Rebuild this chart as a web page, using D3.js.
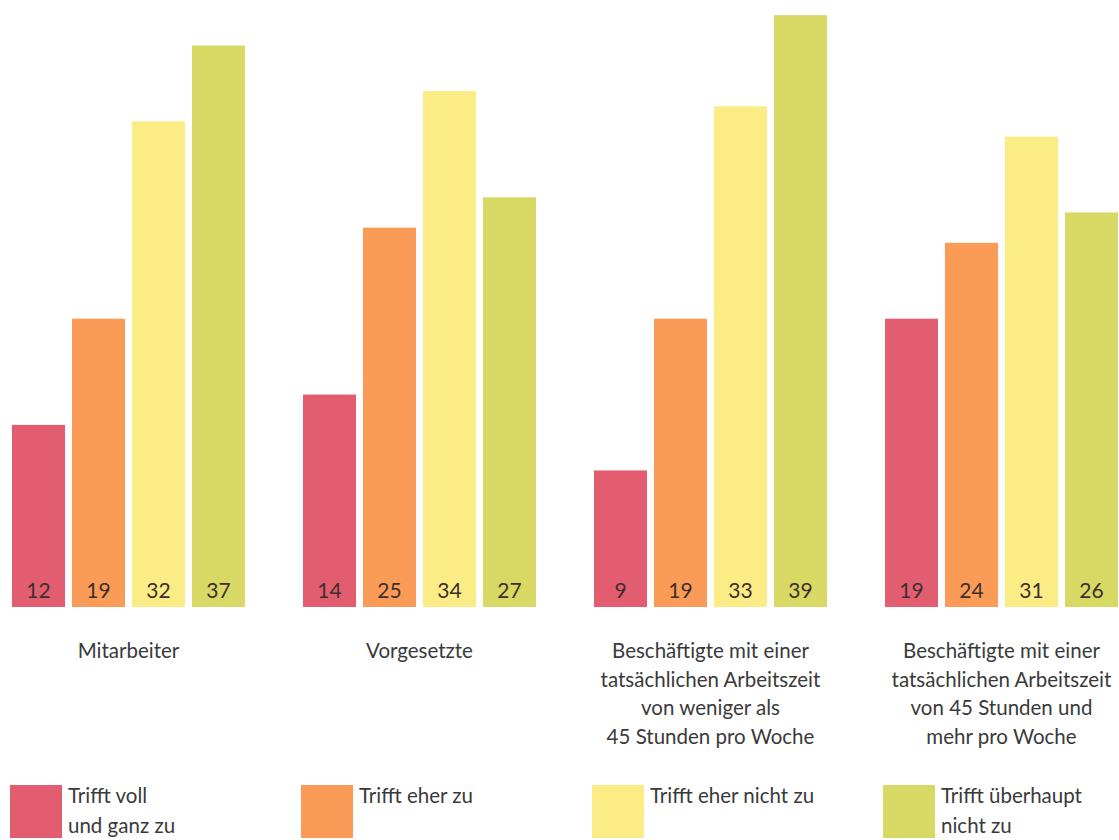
<!DOCTYPE html>
<html>
<head>
<meta charset="utf-8">
<script src="https://cdn.jsdelivr.net/npm/d3@7"></script>
<style>
  html, body { margin: 0; padding: 0; background: #ffffff; }
  svg { display: block; }
  text { font-family: Lato, "Open Sans", sans-serif; }
</style>
</head>
<body>
<svg id="chart" width="1119" height="840"></svg>
<script>
// ---- data ----
const groups = ["Mitarbeiter", "Vorgesetzte", "Beschäftigte <45 Std.", "Beschäftigte ≥45 Std."];
const groupLabelLines = [
  ["Mitarbeiter"],
  ["Vorgesetzte"],
  ["Beschäftigte mit einer", "tatsächlichen Arbeitszeit", "von weniger als", "45 Stunden pro Woche"],
  ["Beschäftigte mit einer", "tatsächlichen Arbeitszeit", "von 45 Stunden und", "mehr pro Woche"]
];
const seriesNames = ["Trifft voll und ganz zu", "Trifft eher zu", "Trifft eher nicht zu", "Trifft überhaupt nicht zu"];
const legendLines = [
  ["Trifft voll", "und ganz zu"],
  ["Trifft eher zu"],
  ["Trifft eher nicht zu"],
  ["Trifft überhaupt", "nicht zu"]
];
const trifftVoll = [12, 14, 9, 19];
const trifftEher = [19, 25, 19, 24];
const trifftEherNicht = [32, 34, 33, 31];
const trifftUeberhauptNicht = [37, 27, 39, 26];
const seriesValues = [trifftVoll, trifftEher, trifftEherNicht, trifftUeberhauptNicht];
const colors = ["#e35d70", "#fa9c57", "#fcec86", "#d7d964"];

// ---- layout ----
const svg = d3.select("#chart");
const baseY = 607;

const x0 = d3.scaleBand().domain(groups).range([12, 1118]).paddingInner(0.1993).paddingOuter(0);
const x1 = d3.scaleBand().domain(seriesNames).range([0, x0.bandwidth()]).paddingInner(0.1167).paddingOuter(0);
const y = d3.scaleLinear().domain([0, 40]).range([baseY, 0]);
const color = d3.scaleOrdinal().domain(seriesNames).range(colors);

const rows = [];
groups.forEach((g, gi) => {
  seriesNames.forEach((s, si) => {
    rows.push({ group: g, series: s, value: seriesValues[si][gi] });
  });
});

const gGroups = svg.selectAll("g.grp").data(groups).join("g")
  .attr("class", "grp")
  .attr("transform", d => `translate(${x0(d)},0)`);

gGroups.selectAll("rect").data(g => rows.filter(r => r.group === g)).join("rect")
  .attr("x", d => x1(d.series))
  .attr("y", d => y(d.value))
  .attr("width", x1.bandwidth())
  .attr("height", d => baseY - y(d.value))
  .attr("fill", d => color(d.series));

gGroups.selectAll("text.val").data(g => rows.filter(r => r.group === g)).join("text")
  .attr("class", "val")
  .attr("x", d => x1(d.series) + x1.bandwidth() / 2)
  .attr("y", baseY - 9)
  .attr("text-anchor", "middle")
  .attr("font-size", 21)
  .attr("fill", "#3e2f2c")
  .text(d => d.value);

// group labels
gGroups.each(function(g, gi) {
  const t = d3.select(this).append("text")
    .attr("text-anchor", "middle")
    .attr("font-size", 20.5)
    .attr("fill", "#3a3a3a");
  groupLabelLines[gi].forEach((line, li) => {
    t.append("tspan")
      .attr("x", x0.bandwidth() / 2)
      .attr("y", 658 + li * 28.5)
      .text(line);
  });
});

// legend
const leg = svg.selectAll("g.leg").data(seriesNames).join("g")
  .attr("class", "leg")
  .attr("transform", (d, i) => `translate(${x0(groups[i]) - 2},785)`);
leg.append("rect")
  .attr("width", 52).attr("height", 53)
  .attr("fill", d => color(d));
leg.each(function(d, i) {
  const t = d3.select(this).append("text")
    .attr("font-size", 20.5)
    .attr("fill", "#3a3a3a");
  legendLines[i].forEach((line, li) => {
    t.append("tspan").attr("x", 58).attr("y", 18 + li * 30).text(line);
  });
});
</script>
</body>
</html>
